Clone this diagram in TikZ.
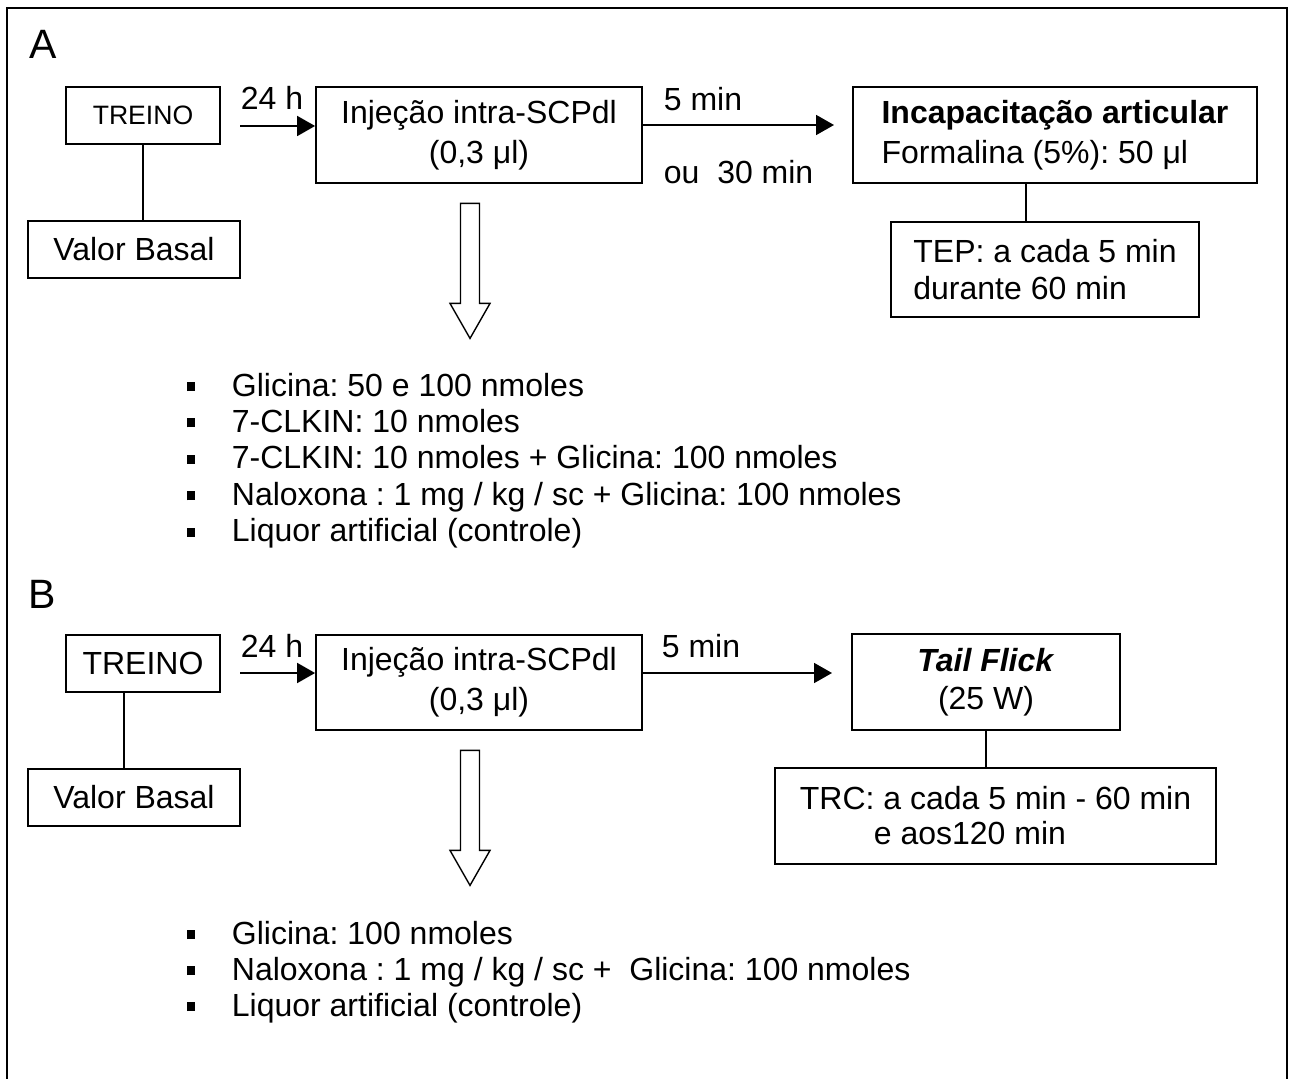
\documentclass[tikz,border=0pt]{standalone}
\usepackage{fontspec}
\setmainfont{Liberation Sans}
\usetikzlibrary{arrows.meta}
\frenchspacing

\newcommand{\sqitem}{\raisebox{2.5pt}{\rule{4pt}{4.5pt}}\hspace{18.5pt}}

\begin{document}
\begin{tikzpicture}[x=0.5pt, y=-0.5pt, line width=0.9pt,
  box/.style={draw, inner sep=0pt, font=\fontsize{16}{20}\selectfont, align=center},
  txt/.style={inner sep=0pt, font=\fontsize{16}{18.2}\selectfont},
  panel/.style={inner sep=0pt, font=\fontsize{20.5}{24}\selectfont},
  arr/.style={-{Triangle[length=9pt,width=10pt]}}]
\useasboundingbox (0,0) rectangle (1294,1079);
\draw (7,1079) -- (7,8) -- (1287,8) -- (1287,1079);

\node[panel] (labA) at (43,44) {A};
\node[box, minimum width=77pt, minimum height=28.5pt, font=\fontsize{13.3}{16}\selectfont] (treinoA) at (143,115.5) {TREINO};
\node[box, minimum width=106pt, minimum height=28.5pt] (basalA) at (134,249.5) {Valor Basal};
\node[box, minimum width=163pt, minimum height=48pt] (injA) at (479,135) {Injeção intra-SCPdl\\(0,3 μl)};
\node[box, minimum width=202pt, minimum height=48pt, align=left] (incapA) at (1055,135) {\textbf{Incapacitação articular}\\Formalina (5\%): 50 μl};
\node[box, minimum width=154pt, minimum height=47.5pt, align=left, font=\fontsize{16}{18.5}\selectfont] (tepA) at (1045,269.5) {TEP: a cada 5 min\\durante 60 min};
\draw (treinoA.south) -- (treinoA.south |- basalA.north);
\draw ([xshift=-14.5pt]incapA.south) -- ([xshift=-14.5pt]incapA.south |- tepA.north);
\coordinate (h24A) at (240,126);
\draw[arr] (h24A) -- (h24A -| injA.west);
\node[txt, anchor=west] (t24A) at (240,98) {24 h};
\coordinate (m5A) at (834,125);
\draw[arr] (m5A -| injA.east) -- (m5A);
\node[txt, anchor=west] (t5A) at (663,99) {5 min};
\node[txt, anchor=west] (t30A) at (663,172) {ou\ \ 30 min};
\node[txt, anchor=north west, align=left] (listA) at (186,372) {\sqitem Glicina: 50 e 100 nmoles\\
  \sqitem 7-CLKIN: 10 nmoles\\
  \sqitem 7-CLKIN: 10 nmoles + Glicina: 100 nmoles\\
  \sqitem Naloxona : 1 mg / kg / sc + Glicina: 100 nmoles\\
  \sqitem Liquor artificial (controle)};

\node[panel] (labB) at (42,594) {B};
\node[box, minimum width=77pt, minimum height=28.5pt] (treinoB) at (143,663.5) {TREINO};
\node[box, minimum width=106pt, minimum height=28.5pt] (basalB) at (134,797.5) {Valor Basal};
\node[box, minimum width=163pt, minimum height=47.5pt] (injB) at (479,682.5) {Injeção intra-SCPdl\\(0,3 μl)};
\node[box, minimum width=134pt, minimum height=48pt, font=\fontsize{16}{19}\selectfont] (tailB) at (986,682) {\textbf{\textit{Tail Flick}}\\(25 W)};
\node[box, minimum width=220.5pt, minimum height=48pt, align=left, font=\fontsize{16}{17.5}\selectfont] (trcB) at (995.5,816) {TRC: a cada 5 min - 60 min\\\hspace*{37pt}e aos120 min};
\draw ([xshift=-9.5pt]treinoB.south) -- ([xshift=-9.5pt]treinoB.south |- basalB.north);
\draw (tailB.south) -- (tailB.south |- trcB.north);
\coordinate (h24B) at (240,673);
\draw[arr] (h24B) -- (h24B -| injB.west);
\node[txt, anchor=west] (t24B) at (240,646) {24 h};
\coordinate (m5B) at (832,673);
\draw[arr] (m5B -| injB.east) -- (m5B);
\node[txt, anchor=west] (t5B) at (661,646) {5 min};
\node[txt, anchor=north west, align=left, font=\fontsize{16}{18}\selectfont] (listB) at (186,920) {\sqitem Glicina: 100 nmoles\\
  \sqitem Naloxona : 1 mg / kg / sc +\ \ Glicina: 100 nmoles\\
  \sqitem Liquor artificial (controle)};

\foreach \p in {A,B}
  \draw[line width=0.7pt] ([shift={(-9,19.5)}]inj\p.south) ++(-9.5,0) -- ++(19,0) -- ++(0,100) -- ++(10.5,0) -- ++(-20,35) -- ++(-20,-35) -- ++(10.5,0) -- cycle;
\end{tikzpicture}
\end{document}
